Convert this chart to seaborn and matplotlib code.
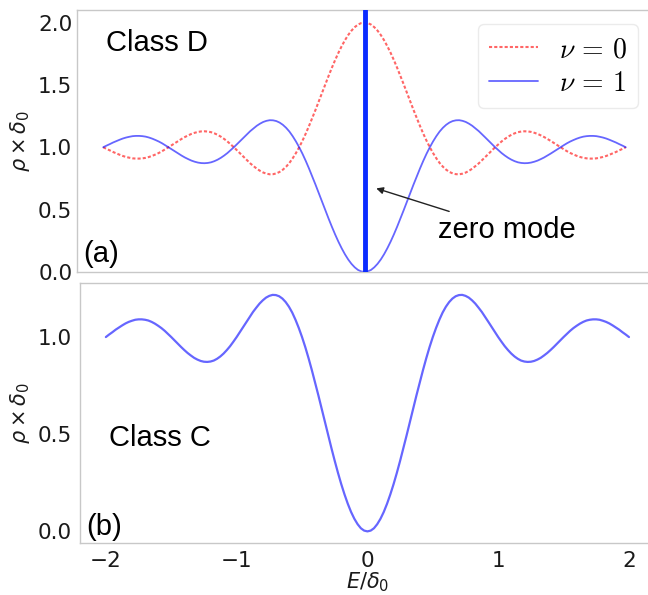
import numpy as np
import pandas as pd
import matplotlib
matplotlib.use("Agg")
import matplotlib.pyplot as plt
import seaborn as sns

E = [round(-2 + 0.025 * i, 3) for i in range(161)]

rho_D_nu0 = [
    1.000, 0.987, 0.975, 0.962, 0.951, 0.940, 0.930, 0.922, 0.916, 0.911,
    0.909, 0.909, 0.911, 0.915, 0.922, 0.931, 0.942, 0.954, 0.968, 0.984,
    1.000, 1.017, 1.034, 1.051, 1.067, 1.082, 1.095, 1.107, 1.116, 1.123,
    1.127, 1.128, 1.126, 1.121, 1.112, 1.100, 1.085, 1.067, 1.047, 1.024,
    1.000, 0.974, 0.948, 0.922, 0.896, 0.871, 0.849, 0.828, 0.811, 0.797,
    0.788, 0.783, 0.784, 0.790, 0.802, 0.820, 0.844, 0.874, 0.911, 0.953,
    1.000, 1.052, 1.109, 1.170, 1.234, 1.300, 1.368, 1.436, 1.505, 1.572,
    1.637, 1.699, 1.757, 1.810, 1.858, 1.900, 1.935, 1.963, 1.984, 1.996,
    2.000,
    1.996, 1.984, 1.963, 1.935, 1.900, 1.858, 1.810, 1.757, 1.699, 1.637,
    1.572, 1.505, 1.436, 1.368, 1.300, 1.234, 1.170, 1.109, 1.052, 1.000,
    0.953, 0.911, 0.874, 0.844, 0.820, 0.802, 0.790, 0.784, 0.783, 0.788,
    0.797, 0.811, 0.828, 0.849, 0.871, 0.896, 0.922, 0.948, 0.974, 1.000,
    1.024, 1.047, 1.067, 1.085, 1.100, 1.112, 1.121, 1.126, 1.128, 1.127,
    1.123, 1.116, 1.107, 1.095, 1.082, 1.067, 1.051, 1.034, 1.017, 1.000,
    0.984, 0.968, 0.954, 0.942, 0.931, 0.922, 0.915, 0.911, 0.909, 0.909,
    0.911, 0.916, 0.922, 0.930, 0.940, 0.951, 0.962, 0.975, 0.987, 1.000]

rho_D_nu1 = [
    1.000, 1.013, 1.025, 1.038, 1.049, 1.060, 1.070, 1.078, 1.084, 1.089,
    1.091, 1.091, 1.089, 1.085, 1.078, 1.069, 1.058, 1.046, 1.032, 1.016,
    1.000, 0.983, 0.966, 0.949, 0.933, 0.918, 0.905, 0.893, 0.884, 0.877,
    0.873, 0.872, 0.874, 0.879, 0.888, 0.900, 0.915, 0.933, 0.953, 0.976,
    1.000, 1.026, 1.052, 1.078, 1.104, 1.129, 1.151, 1.172, 1.189, 1.203,
    1.212, 1.217, 1.216, 1.210, 1.198, 1.180, 1.156, 1.126, 1.089, 1.047,
    1.000, 0.948, 0.891, 0.830, 0.766, 0.700, 0.632, 0.564, 0.495, 0.428,
    0.363, 0.301, 0.243, 0.190, 0.142, 0.100, 0.065, 0.037, 0.016, 0.004,
    0.000,
    0.004, 0.016, 0.037, 0.065, 0.100, 0.142, 0.190, 0.243, 0.301, 0.363,
    0.428, 0.495, 0.564, 0.632, 0.700, 0.766, 0.830, 0.891, 0.948, 1.000,
    1.047, 1.089, 1.126, 1.156, 1.180, 1.198, 1.210, 1.216, 1.217, 1.212,
    1.203, 1.189, 1.172, 1.151, 1.129, 1.104, 1.078, 1.052, 1.026, 1.000,
    0.976, 0.953, 0.933, 0.915, 0.900, 0.888, 0.879, 0.874, 0.872, 0.873,
    0.877, 0.884, 0.893, 0.905, 0.918, 0.933, 0.949, 0.966, 0.983, 1.000,
    1.016, 1.032, 1.046, 1.058, 1.069, 1.078, 1.085, 1.089, 1.091, 1.091,
    1.089, 1.084, 1.078, 1.070, 1.060, 1.049, 1.038, 1.025, 1.013, 1.000]

rho_C = list(rho_D_nu1)

zero_mode_E = 0.0
xticks = [-2, -1, 0, 1, 2]
yticks_top = [0.0, 0.5, 1.0, 1.5, 2.0]
yticks_bot = [0.0, 0.5, 1.0]

# ---- style ----
sns.set_theme(style="white")
plt.rcParams["font.family"] = ["DejaVu Sans"]
plt.rcParams["mathtext.fontset"] = "dejavusans"
plt.rcParams["axes.edgecolor"] = "#c8c8c8"
plt.rcParams["axes.linewidth"] = 1.0

fig = plt.figure(figsize=(6.48, 5.95), dpi=100)
ax1 = fig.add_axes([0.119, 0.543, 0.887, 0.440])
ax2 = fig.add_axes([0.123, 0.087, 0.888, 0.437])

red = (1.0, 0.0, 0.0, 0.6)
lblue = (0.0, 0.0, 1.0, 0.6)
tcol = "#1a1a1a"

df = pd.DataFrame({"E": E, "nu0": rho_D_nu0, "nu1": rho_D_nu1, "C": rho_C})

sns.lineplot(data=df, x="E", y="nu0", ax=ax1, color=red, lw=1.5,
             linestyle=(0, (1.5, 1.0)), label=r"$\nu\,=\,0$")
sns.lineplot(data=df, x="E", y="nu1", ax=ax1, color=lblue, lw=1.3,
             label=r"$\nu\,=\,1$")
ax1.axvline(zero_mode_E, color="#0a2bff", lw=3.5, zorder=5)

ax1.set_xlim(-2.2, 2.2)
ax1.set_ylim(0, 2.1)
ax1.set_yticks(yticks_top)
ax1.set_xticks(xticks)
ax1.set_xticklabels([])
ax1.set_xlabel("")
ax1.set_ylabel(r"$\rho\times\delta_0$", fontsize=15, color=tcol)
ax1.tick_params(axis="y", labelsize=15.5, colors=tcol, length=0)
ax1.tick_params(axis="x", length=2, color="#c8c8c8")

leg = ax1.legend(loc="upper right", handlelength=1.75, handletextpad=0.75,
                 frameon=True, borderpad=0.4, labelspacing=0.2,
                 prop={"size": 20})
for t in leg.get_texts():
    t.set_math_fontfamily("cm")
    t.set_color("black")
leg.get_frame().set_edgecolor("#e6e6e6")
leg.get_frame().set_linewidth(1.0)

ax1.text(-1.59, 1.84, "Class D", fontsize=21, family="Liberation Sans",
         ha="center", va="center", color="black")
ax1.text(-2.15, 0.14, "(a)", fontsize=21, family="Liberation Sans",
         ha="left", va="center", color="black")
ax1.annotate("zero mode", xy=(0.09, 0.67), xytext=(0.56, 0.34),
             fontsize=21, family="Liberation Sans", ha="left", va="center",
             color="black",
             arrowprops=dict(arrowstyle="-|>", color="#222222", lw=1.0,
                             mutation_scale=10, shrinkA=2, shrinkB=0))

sns.lineplot(data=df, x="E", y="C", ax=ax2, color=lblue, lw=1.6)
ax2.set_xlim(-2.2, 2.2)
ax2.set_ylim(-0.061, 1.277)
ax2.set_xticks(xticks)
ax2.set_yticks(yticks_bot)
ax2.set_xticklabels(["\u22122", "\u22121", "0", "1", "2"])
ax2.set_xlabel(r"$E/\delta_0$", fontsize=15, color=tcol, labelpad=0)
ax2.set_ylabel(r"$\rho\times\delta_0$", fontsize=15, color=tcol)
ax2.tick_params(labelsize=15.5, colors=tcol, length=2)
ax2.tick_params(color="#c8c8c8")
ax2.text(-1.59, 0.48, "Class C", fontsize=21, family="Liberation Sans",
         ha="center", va="center", color="black")
ax2.text(-2.15, 0.02, "(b)", fontsize=21, family="Liberation Sans",
         ha="left", va="center", color="black")

for ax in (ax1, ax2):
    for s in ax.spines.values():
        s.set_color("#c8c8c8")

fig.savefig("out.png", dpi=100)
